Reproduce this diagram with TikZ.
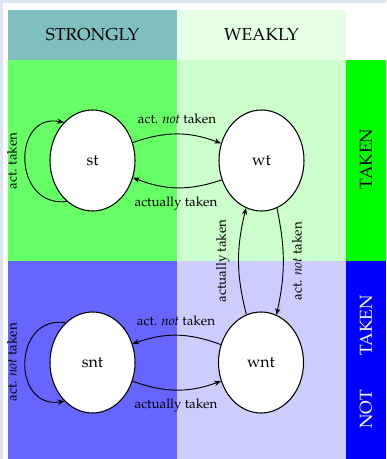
\documentclass[tikz,border=0pt]{standalone}
\usepackage[T1]{fontenc}
\usepackage{mathpazo}
\usetikzlibrary{shapes.geometric,arrows.meta}
\definecolor{bgstrip}{HTML}{DEE5F4}
\tikzset{
  state/.style={ellipse, draw, fill=white, line width=0.8pt, minimum width=63.75pt, minimum height=75.75pt, inner sep=0pt, font=\large},
  edge/.style={line width=0.7pt, -{Stealth[length=5pt,width=4pt]}},
  lbl/.style={font=\normalsize, inner sep=1pt},
  hdr/.style={font=\fontsize{13}{15}\selectfont, inner sep=1pt},
}
\begin{document}
\begin{tikzpicture}[x=0.75pt, y=-0.75pt]
\useasboundingbox (0,0) rectangle (386,459);
% background and cells
\fill[bgstrip] (0,0) rectangle (386,459);
\fill[white] (3,3) rectangle (386,459);
\fill[teal!50] (8,10) rectangle (177,60);
\fill[green!10] (177,10) rectangle (346,60);
\fill[green!60] (8,60) rectangle (177,261);
\fill[green!20] (177,60) rectangle (346,261);
\fill[green] (346,60) rectangle (386,261);
\fill[blue!60] (8,261) rectangle (177,459);
\fill[blue!20] (177,261) rectangle (346,459);
\fill[blue] (346,261) rectangle (386,459);
% headers
\node[hdr] (hs) at (92.5,35) {STRONGLY};
\node[hdr] (hw) at (261.5,35) {WEAKLY};
\node[hdr, rotate=90] (ht) at (366,159) {TAKEN};
\node[hdr, rotate=90, text=white] (hn) at (366,362) {NOT\hspace{26pt}TAKEN};
% states
\node[state] (st) at (92.5,160.5) {st};
\node[state] (wt) at (261.5,160.5) {wt};
\node[state] (snt) at (92.5,362.5) {snt};
\node[state] (wnt) at (261,362.5) {wnt};
% edges
\draw[edge] (st.24) to[bend left=20] (wt.157);
\draw[edge] (wt.206) to[bend left=20] (st.-23);
\draw[edge] (st.238) .. controls (12,208) and (12,112) .. (st.127);
\draw[edge] (wt.-72) to[bend left=12] (wnt.72);
\draw[edge] (wnt.107) to[bend left=14] (wt.252);
\draw[edge] (wnt.156) to[bend right=20] (snt.25);
\draw[edge] (snt.-25) to[bend right=20] (wnt.205);
\draw[edge] (snt.124) .. controls (12,315) and (12,410) .. (snt.234);
% labels
\node[lbl] (l1) at (177,119) {act. \emph{not} taken};
\node[lbl] (l2) at (176,204) {actually taken};
\node[lbl, rotate=90] (l3) at (12,161) {act. taken};
\node[lbl, rotate=90] (l4) at (223,261) {actually taken};
\node[lbl, rotate=90] (l5) at (297,261) {act. \emph{not} taken};
\node[lbl] (l6) at (176,321) {act. \emph{not} taken};
\node[lbl] (l7) at (176,406) {actually taken};
\node[lbl, rotate=90] (l8) at (12,362) {act. \emph{not} taken};
\end{tikzpicture}
\end{document}
